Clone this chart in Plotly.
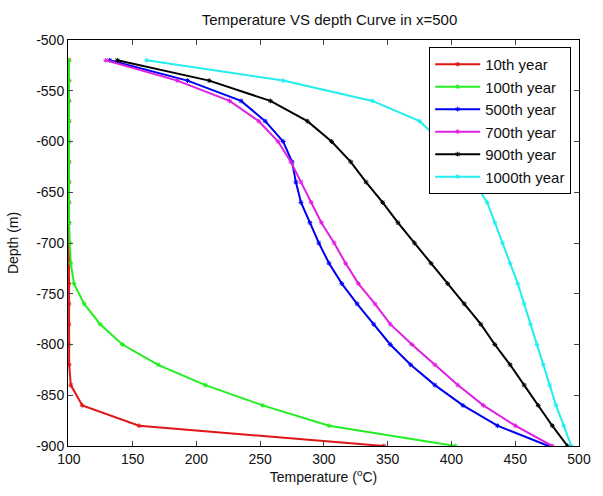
import plotly.graph_objects as go

depth = [-520, -540, -560, -580, -600, -620, -640, -660, -680, -700,
         -720, -740, -760, -780, -800, -820, -840, -860, -880, -900]

t_10 = [100, 100, 100, 100, 100, 100, 100, 100, 100, 100,
        100, 100, 100, 100, 100, 100.2, 101.5, 110.5, 155, 347]
t_100 = [100, 100, 100, 100, 100, 100, 100, 100, 100.2, 100.6,
         101.5, 104, 112, 124.5, 142, 170, 207, 252, 304, 403]
t_500 = [132, 193, 235, 254, 268, 275, 278, 282, 289, 296,
         304, 314, 326, 339, 352, 368, 387, 409, 436, 476]
t_700 = [129, 185, 226, 249, 264, 274, 282, 290, 298, 308,
         317, 327, 340, 352, 369, 387, 405, 425, 450, 479]
t_900 = [138, 210, 258, 287, 306, 321, 333, 346, 358, 371,
         384, 397, 410, 423, 434, 446, 457, 468, 479, 491]
t_1000 = [161, 268, 338, 375, 392, 406, 418, 428, 434, 440,
          446, 452, 457, 462, 467, 472, 477, 482, 488, 494]

series_names = ["10th year", "100th year", "500th year", "700th year", "900th year", "1000th year"]
series_vals = [t_10, t_100, t_500, t_700, t_900, t_1000]
series_colors = ["#e01515", "#22ee22", "#0000f0", "#e020e0", "#000000", "#22eeee"]

x_ticks = [100, 150, 200, 250, 300, 350, 400, 450, 500]
y_ticks = [-500, -550, -600, -650, -700, -750, -800, -850, -900]
y_tick_text = [str(v) for v in y_ticks]

FONT = "Liberation Sans, Arial, sans-serif"

fig = go.Figure()
for name, vals, col in zip(series_names, series_vals, series_colors):
    fig.add_trace(go.Scatter(
        x=vals, y=depth, name=name, mode="lines+markers",
        line=dict(color=col, width=2),
        marker=dict(symbol="asterisk-open", size=4, color=col, line=dict(color=col, width=1)),
    ))

fig.update_layout(
    width=603, height=496,
    margin=dict(l=68, r=12, t=40, b=50),
    paper_bgcolor="white", plot_bgcolor="white",
    font=dict(family=FONT, size=14, color="#111"),
    title=dict(text="Temperature VS depth Curve in x=500", x=(68 + 261.5) / 603, xanchor="center",
               y=1 - 20 / 496, yanchor="middle", yref="container",
               font=dict(family=FONT, size=15, color="#111")),
    showlegend=True,
    legend=dict(x=0.9847, xanchor="right", y=0.983, yanchor="top",
                bgcolor="white", bordercolor="black", borderwidth=1,
                font=dict(family=FONT, size=15, color="#111"),
                itemwidth=45, tracegroupgap=0),
)
fig.update_xaxes(
    range=[99.3, 500], tickvals=x_ticks, ticks="inside", ticklen=5,
    showline=True, linecolor="black", linewidth=1, mirror="ticks",
    showgrid=False, zeroline=False, tickfont=dict(size=14),
    title=dict(text="Temperature (<sup>o</sup>C)", standoff=6, font=dict(size=14)),
)
fig.update_yaxes(
    range=[-900, -500], tickvals=y_ticks, ticktext=y_tick_text, ticks="inside", ticklen=5,
    showline=True, linecolor="black", linewidth=1, mirror="ticks",
    showgrid=False, zeroline=False, tickfont=dict(size=14),
    title=dict(text="Depth (m)", standoff=14, font=dict(size=14)),
)

fig.write_html("out.html")
